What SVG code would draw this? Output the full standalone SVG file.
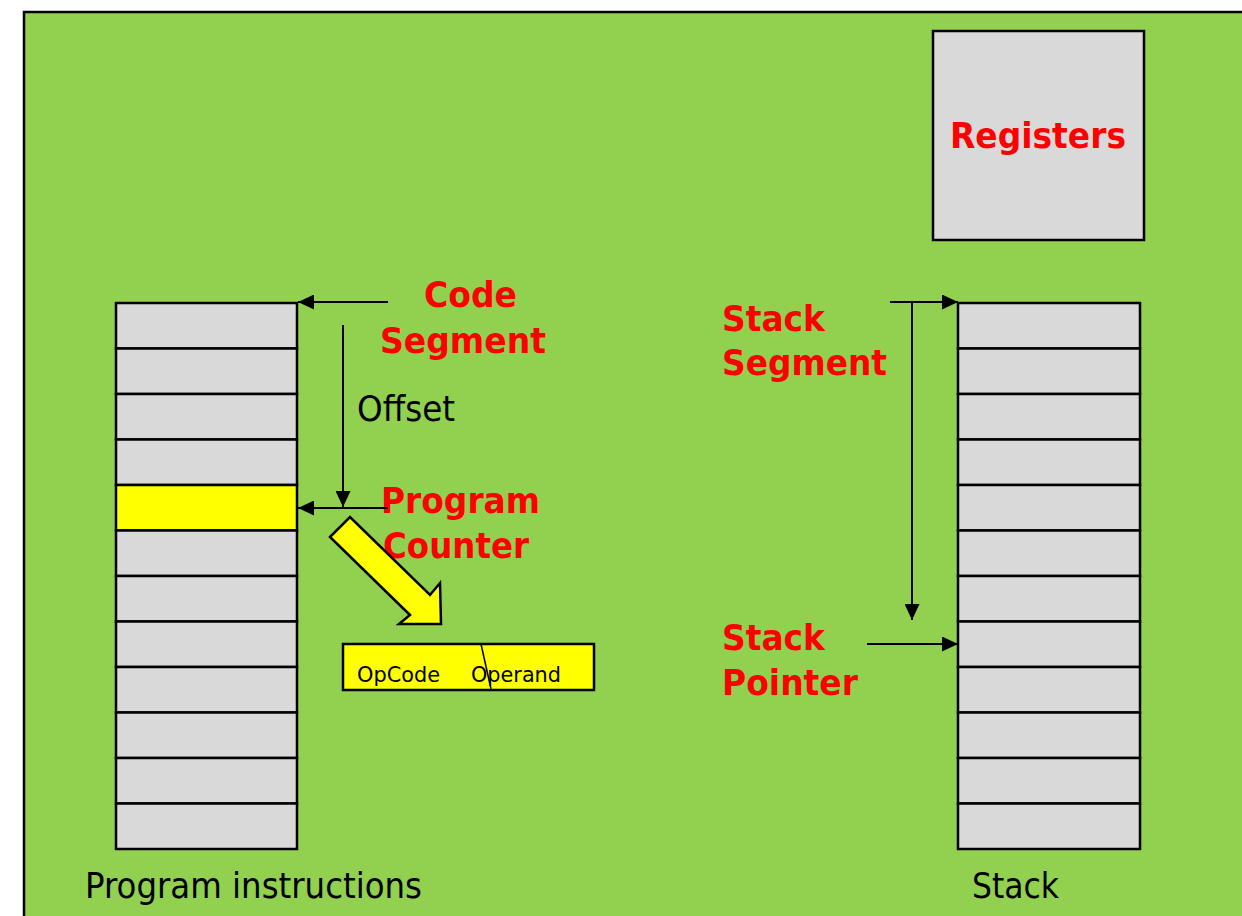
<svg xmlns="http://www.w3.org/2000/svg" width="1242" height="916" viewBox="0 0 1242 916">
<defs>
<style>
.cell{fill:#D9D9D9;stroke:#000;stroke-width:2.5}
.hl{fill:#FFFF00;stroke:#000;stroke-width:2.5}
.red{font-family:"DejaVu Sans","Liberation Sans",sans-serif;font-weight:bold;fill:#FF0000;font-size:36px}
.blk{font-family:"DejaVu Sans","Liberation Sans",sans-serif;fill:#000;font-size:35px}
.small{font-family:"DejaVu Sans","Liberation Sans",sans-serif;fill:#000;font-size:22px}
.con{stroke:#000;stroke-width:2;fill:none;marker-end:url(#ah)}
</style>
<marker id="ah" viewBox="0 0 10 10" refX="10" refY="5" markerWidth="16" markerHeight="15" markerUnits="userSpaceOnUse" orient="auto" preserveAspectRatio="none">
<path d="M0,0 L10,5 L0,10 z" fill="#000"/>
</marker>
</defs>
<rect x="0" y="0" width="1242" height="916" fill="#fff"/>
<rect id="background" x="24" y="12" width="1230" height="920" fill="#92D050" stroke="#000" stroke-width="2.5"/>

<g id="registers">
<rect x="933" y="31" width="211" height="209" class="cell"/>
<text x="1038" y="148" text-anchor="middle" class="red" textLength="176" lengthAdjust="spacingAndGlyphs">Registers</text>
</g>

<g id="program-memory">
<rect x="116" y="303" width="181" height="45.5" class="cell"/>
<rect x="116" y="348.5" width="181" height="45.5" class="cell"/>
<rect x="116" y="394" width="181" height="45.5" class="cell"/>
<rect x="116" y="439.5" width="181" height="45.5" class="cell"/>
<rect x="116" y="485" width="181" height="45.5" class="hl"/>
<rect x="116" y="530.5" width="181" height="45.5" class="cell"/>
<rect x="116" y="576" width="181" height="45.5" class="cell"/>
<rect x="116" y="621.5" width="181" height="45.5" class="cell"/>
<rect x="116" y="667" width="181" height="45.5" class="cell"/>
<rect x="116" y="712.5" width="181" height="45.5" class="cell"/>
<rect x="116" y="758" width="181" height="45.5" class="cell"/>
<rect x="116" y="803.5" width="181" height="45.5" class="cell"/>
<text x="85" y="898" class="blk" textLength="337" lengthAdjust="spacingAndGlyphs">Program instructions</text>
</g>

<g id="stack-memory">
<rect x="958" y="303" width="182" height="45.5" class="cell"/>
<rect x="958" y="348.5" width="182" height="45.5" class="cell"/>
<rect x="958" y="394" width="182" height="45.5" class="cell"/>
<rect x="958" y="439.5" width="182" height="45.5" class="cell"/>
<rect x="958" y="485" width="182" height="45.5" class="cell"/>
<rect x="958" y="530.5" width="182" height="45.5" class="cell"/>
<rect x="958" y="576" width="182" height="45.5" class="cell"/>
<rect x="958" y="621.5" width="182" height="45.5" class="cell"/>
<rect x="958" y="667" width="182" height="45.5" class="cell"/>
<rect x="958" y="712.5" width="182" height="45.5" class="cell"/>
<rect x="958" y="758" width="182" height="45.5" class="cell"/>
<rect x="958" y="803.5" width="182" height="45.5" class="cell"/>
<text x="972" y="898" class="blk" textLength="87" lengthAdjust="spacingAndGlyphs">Stack</text>
</g>

<g id="code-segment-label">
<text x="424" y="307" class="red" textLength="93" lengthAdjust="spacingAndGlyphs">Code</text>
<text x="380" y="353" class="red" textLength="166" lengthAdjust="spacingAndGlyphs">Segment</text>
</g>

<g id="offset-label">
<text x="357" y="421" class="blk" textLength="98" lengthAdjust="spacingAndGlyphs">Offset</text>
</g>

<g id="program-counter-label">
<text x="381" y="513" class="red" textLength="159" lengthAdjust="spacingAndGlyphs">Program</text>
<text x="383" y="558" class="red" textLength="146" lengthAdjust="spacingAndGlyphs">Counter</text>
</g>

<g id="stack-segment-label">
<text x="722" y="331" class="red" textLength="103" lengthAdjust="spacingAndGlyphs">Stack</text>
<text x="722" y="375" class="red" textLength="165" lengthAdjust="spacingAndGlyphs">Segment</text>
</g>

<g id="stack-pointer-label">
<text x="722" y="650" class="red" textLength="103" lengthAdjust="spacingAndGlyphs">Stack</text>
<text x="722" y="695" class="red" textLength="136" lengthAdjust="spacingAndGlyphs">Pointer</text>
</g>

<g id="instruction">
<rect x="343" y="644" width="251" height="46" class="hl"/>
<line x1="481" y1="644" x2="491" y2="689" stroke="#000" stroke-width="1.5"/>
<text x="357" y="682" class="small" textLength="83" lengthAdjust="spacingAndGlyphs">OpCode</text>
<text x="471" y="682" class="small" textLength="90" lengthAdjust="spacingAndGlyphs">Operand</text>
</g>

<g id="connectors">
<line x1="388" y1="302" x2="298" y2="302" class="con"/>
<line x1="343" y1="325" x2="343" y2="507" class="con"/>
<line x1="388" y1="508" x2="298" y2="508" class="con"/>
<line x1="890" y1="302" x2="958" y2="302" class="con"/>
<line x1="912" y1="303" x2="912" y2="620" class="con"/>
<line x1="867" y1="644" x2="958" y2="644" class="con"/>
<polygon points="330,537 350,517 430,595 440,583 441,624 399,624 410,615" fill="#FFFF00" stroke="#000" stroke-width="2.5" stroke-linejoin="miter"/>
</g>
</svg>
